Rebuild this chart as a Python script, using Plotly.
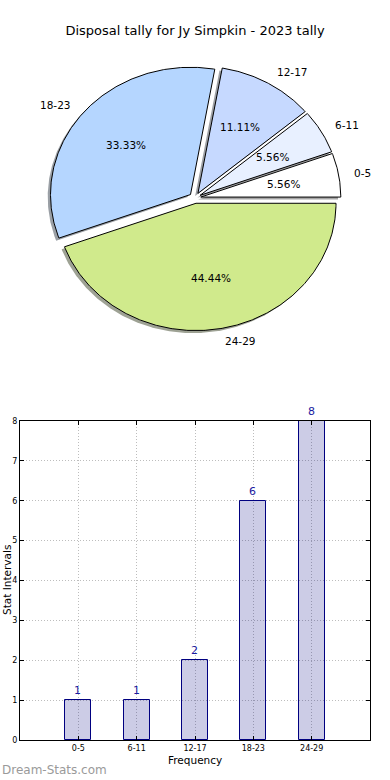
import numpy as np
import plotly.graph_objects as go

# ---- data ----
categories = ["0-5", "6-11", "12-17", "18-23", "24-29"]
counts = [1, 1, 2, 6, 8]
pie_colors = ["#ffffff", "#e8f0ff", "#c6d9ff", "#b5d6ff", "#d0ea8c"]
explode = [0.042, 0.042, 0.042, 0.042, 0.042]
y_ticks = [0, 1, 2, 3, 4, 5, 6, 7, 8]

title = "Disposal tally for Jy Simpkin - 2023 tally"

W, H = 390, 780
# pie geometry (pixels) -> used for axis ranges
PCX, PCY, PRX, PRY = 195, 198, 140, 127.3
LABEL_DIST, PCT_DIST = 1.1, 0.6
SHADOW_OFF = (-0.02, -0.02)

fig = go.Figure()


def hex_to_rgb(h):
    h = h.lstrip("#")
    return tuple(int(h[i:i + 2], 16) for i in (0, 2, 4))


total = float(sum(counts))
fracs = [c / total for c in counts]
starts = np.concatenate([[0.0], np.cumsum(fracs)[:-1]]) * 360.0
ends = np.cumsum(fracs) * 360.0

wedges = []
for lab, f, t1, t2, ex, col in zip(categories, fracs, starts, ends, explode, pie_colors):
    tm = np.deg2rad((t1 + t2) / 2)
    cx, cy = ex * np.cos(tm), ex * np.sin(tm)
    th = np.deg2rad(np.linspace(t1, t2, max(4, int((t2 - t1) * 2))))
    xs = np.concatenate([[cx], cx + np.cos(th), [cx]])
    ys = np.concatenate([[cy], cy + np.sin(th), [cy]])
    wedges.append((lab, f, tm, cx, cy, xs, ys, col))

# shadows first
for lab, f, tm, cx, cy, xs, ys, col in wedges:
    r, g, b = hex_to_rgb(col)
    sc = "rgba(%d,%d,%d,0.5)" % (int(r * 0.3), int(g * 0.3), int(b * 0.3))
    fig.add_trace(go.Scatter(x=xs + SHADOW_OFF[0], y=ys + SHADOW_OFF[1], mode="lines",
                             fill="toself", fillcolor=sc, line=dict(width=0, color=sc),
                             xaxis="x2", yaxis="y2", hoverinfo="skip", showlegend=False))

# wedges
for lab, f, tm, cx, cy, xs, ys, col in wedges:
    fig.add_trace(go.Scatter(x=xs, y=ys, mode="lines", fill="toself", fillcolor=col,
                             line=dict(width=1, color="black"),
                             xaxis="x2", yaxis="y2", name=lab, showlegend=False))

annotations = []
for lab, f, tm, cx, cy, xs, ys, col in wedges:
    lx = cx + LABEL_DIST * np.cos(tm)
    ly = cy + LABEL_DIST * np.sin(tm)
    annotations.append(dict(x=lx, y=ly, xref="x2", yref="y2", text=lab, showarrow=False,
                            xanchor="left" if lx > 0 else "right", yanchor="middle",
                            font=dict(size=10.5, color="black", family="DejaVu Sans")))
    px_ = cx + PCT_DIST * np.cos(tm)
    py_ = cy + PCT_DIST * np.sin(tm)
    annotations.append(dict(x=px_, y=py_, xref="x2", yref="y2", text="%.2f%%" % (f * 100),
                            showarrow=False, xanchor="center", yanchor="middle",
                            font=dict(size=10.5, color="black", family="DejaVu Sans")))

# bar chart
fig.add_trace(go.Bar(x=categories, y=counts, width=0.45,
                     marker=dict(color="rgba(0,0,128,0.2)", line=dict(color="#000080", width=1)),
                     text=[str(c) for c in counts], textposition="outside", cliponaxis=False,
                     textfont=dict(color="#1a1aa0", size=11, family="DejaVu Sans"),
                     xaxis="x", yaxis="y", showlegend=False))

annotations.append(dict(x=6.5 / W, y=(H - 580.5) / H, xref="paper", yref="paper",
                        text="Stat Intervals", textangle=-90, showarrow=False,
                        xanchor="center", yanchor="middle",
                        font=dict(size=10.5, color="black", family="DejaVu Sans")))
annotations.append(dict(x=195 / W, y=(H - 760) / H, xref="paper", yref="paper",
                        text="Frequency", showarrow=False, xanchor="center", yanchor="middle",
                        font=dict(size=10.5, color="black", family="DejaVu Sans")))
annotations.append(dict(x=0, y=(H - 770) / H, xref="paper", yref="paper",
                        text="Dream-Stats.com", showarrow=False, xanchor="left", yanchor="middle",
                        font=dict(size=12, color="#9a9a9a", family="DejaVu Sans")))

grid_style = dict(showgrid=True, gridcolor="#bdbdbd", griddash="1px,2px", gridwidth=1)

fig.update_layout(
    template="none",
    width=W, height=H, margin=dict(l=0, r=0, t=0, b=0, pad=0), autosize=False,
    paper_bgcolor="white", plot_bgcolor="white",
    title=dict(text=title, x=0.5, xanchor="center", y=1 - 30 / H, yanchor="middle",
               font=dict(size=13, color="black", family="DejaVu Sans")),
    annotations=annotations,
    xaxis2=dict(domain=[0, 1], anchor="y2", range=[(0 - PCX) / PRX, (W - PCX) / PRX],
                visible=False, fixedrange=True, automargin=False),
    yaxis2=dict(domain=[0.5, 1], anchor="x2", range=[(PCY - 390) / PRY, PCY / PRY],
                visible=False, fixedrange=True, automargin=False),
    xaxis=dict(domain=[20 / W, 370 / W], anchor="y", range=[-1, 5], type="category",
               autorange=False, automargin=False,
               showline=True, mirror="ticks", linecolor="black", linewidth=1,
               ticks="inside", ticklen=4, tickcolor="black",
               tickfont=dict(size=8, color="black", family="DejaVu Sans"), zeroline=False,
               **grid_style),
    yaxis=dict(domain=[40 / H, 359 / H], anchor="x", range=[0, 8], autorange=False,
               automargin=False,
               tickvals=y_ticks, ticktext=[str(v) for v in y_ticks],
               showline=True, mirror="ticks", linecolor="black", linewidth=1,
               ticks="inside", ticklen=4, tickcolor="black",
               tickfont=dict(size=8, color="black", family="DejaVu Sans"), zeroline=False,
               **grid_style),
    bargap=0,
)

fig.write_html(
    "out.html",
    config={"displayModeBar": False, "responsive": False},
    post_script=("document.documentElement.style.margin='0';"
                 "document.documentElement.style.overflow='hidden';"
                 "document.body.style.margin='0';document.body.style.padding='0';"
                 "document.body.style.overflow='hidden';"),
)
